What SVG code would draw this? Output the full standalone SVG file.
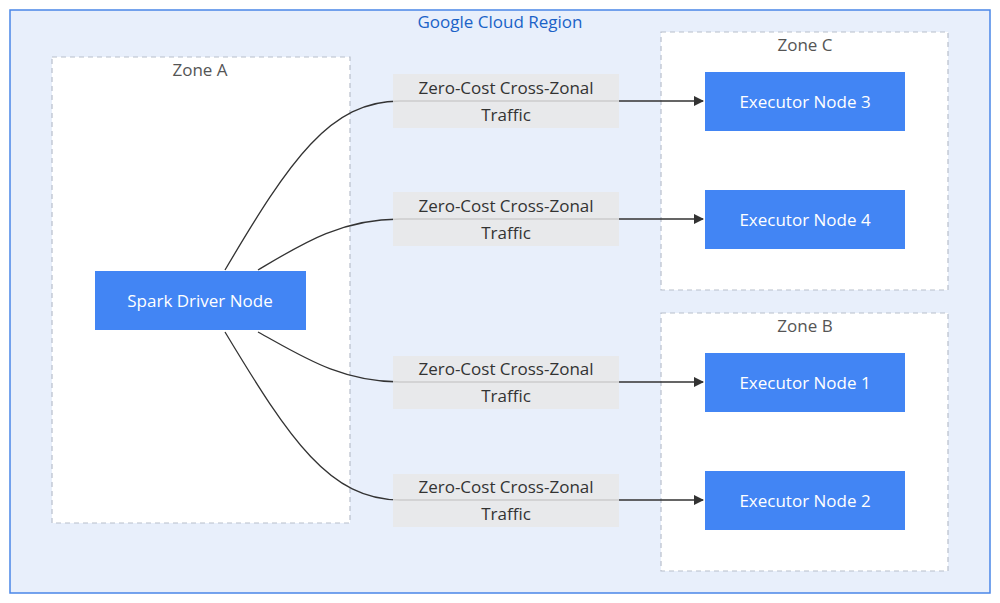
<svg xmlns="http://www.w3.org/2000/svg" width="1000" height="603" viewBox="0 0 1000 603">
<style>
text{font-family:"Open Sans","DejaVu Sans",sans-serif;font-size:17px;text-anchor:middle}
.zone{fill:#fff;stroke:#b8bfcc;stroke-width:1.2;stroke-dasharray:5,4}
.zl{fill:#555}
.node rect{fill:#4285f4}
.node text{fill:#fff}
.lbl rect{fill:#e8e8e8;opacity:0.85}
.lbl text{fill:#333}
.edge{fill:none;stroke:#333;stroke-width:1.3;marker-end:url(#a)}
</style>
<defs><marker id="a" viewBox="0 0 10 10" refX="9" refY="5" markerWidth="8" markerHeight="8" orient="auto"><path d="M0,0 L10,5 L0,10 z" fill="#333"/></marker></defs>
<rect x="10" y="10" width="980" height="583" fill="#e8effb" stroke="#4a86e8" stroke-width="1.5"/>
<text x="500" y="28" fill="#1a62c7">Google Cloud Region</text>
<g id="zoneA"><rect class="zone" x="52" y="57" width="298" height="466"/><text class="zl" x="200" y="76">Zone A</text></g>
<g id="zoneC"><rect class="zone" x="661" y="32" width="287" height="258"/><text class="zl" x="805" y="51">Zone C</text></g>
<g id="zoneB"><rect class="zone" x="661" y="313" width="287" height="258"/><text class="zl" x="805" y="332">Zone B</text></g>
<g id="connectors">
<path class="edge" d="M225,270 C290,160 330,101 400,101 L703,101"/>
<path class="edge" d="M258,270 C300,245 340,219 400,219 L703,219"/>
<path class="edge" d="M258,332 C300,355 340,382 400,382 L703,382"/>
<path class="edge" d="M225,332 C290,440 330,500 400,500 L703,500"/>
</g>
<g class="lbl" id="l1"><rect x="393" y="74" width="226" height="54"/><text x="506" y="94">Zero-Cost Cross-Zonal</text><text x="506" y="121">Traffic</text></g>
<g class="lbl" id="l2"><rect x="393" y="192" width="226" height="54"/><text x="506" y="212">Zero-Cost Cross-Zonal</text><text x="506" y="239">Traffic</text></g>
<g class="lbl" id="l3"><rect x="393" y="356" width="226" height="53"/><text x="506" y="375">Zero-Cost Cross-Zonal</text><text x="506" y="402">Traffic</text></g>
<g class="lbl" id="l4"><rect x="393" y="474" width="226" height="53"/><text x="506" y="493">Zero-Cost Cross-Zonal</text><text x="506" y="520">Traffic</text></g>
<g class="node" id="driver"><rect x="95" y="271" width="211" height="59"/><text x="200" y="307">Spark Driver Node</text></g>
<g class="node" id="ex3"><rect x="705" y="72" width="200" height="59"/><text x="805" y="108">Executor Node 3</text></g>
<g class="node" id="ex4"><rect x="705" y="190" width="200" height="59"/><text x="805" y="226">Executor Node 4</text></g>
<g class="node" id="ex1"><rect x="705" y="353" width="200" height="59"/><text x="805" y="389">Executor Node 1</text></g>
<g class="node" id="ex2"><rect x="705" y="471" width="200" height="59"/><text x="805" y="507">Executor Node 2</text></g>
</svg>
